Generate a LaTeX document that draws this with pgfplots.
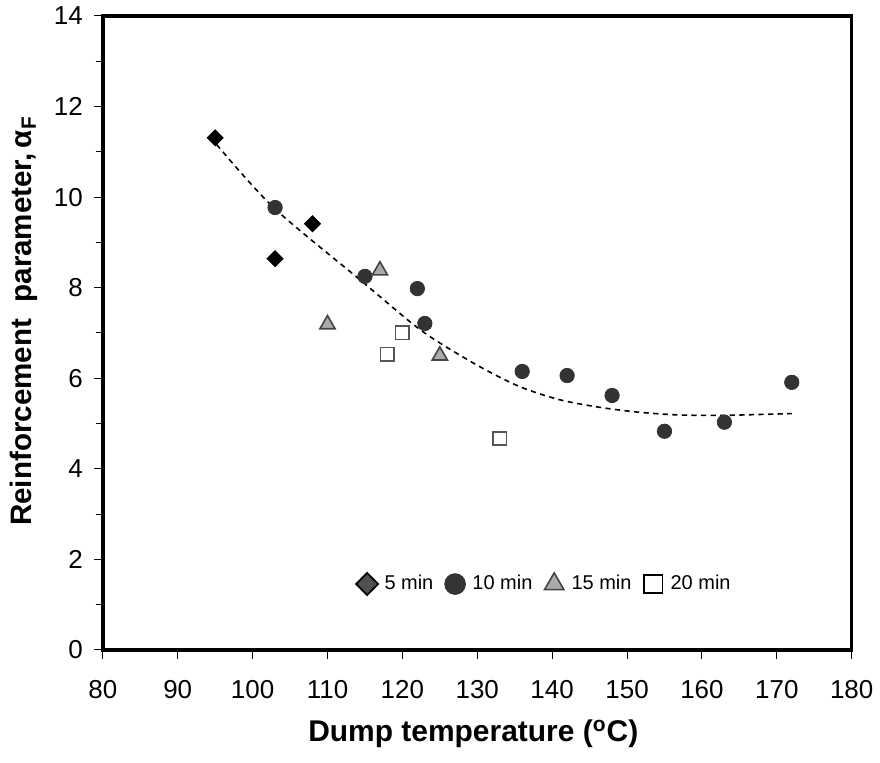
\documentclass[border=0pt]{standalone}
\usepackage{fontspec}
\setmainfont{Liberation Sans}
\usepackage{pgfplots}
\pgfplotsset{compat=1.18}
\definecolor{circ}{HTML}{333333}
\definecolor{tri}{HTML}{AAAAAA}
\definecolor{trid}{HTML}{444444}
\definecolor{sq}{HTML}{555555}
\definecolor{dia}{HTML}{505050}
\begin{document}
\begin{tikzpicture}
\begin{axis}[
  name=ax,
  scale only axis,
  width=375pt, height=317.5pt,
  xmin=80, xmax=180, ymin=0, ymax=14,
  xtick={80,90,...,180}, ytick={0,2,...,14},
  minor ytick={1,3,...,13},
  tick align=outside,
  xtick pos=bottom, ytick pos=left,
  major tick length=4.5pt, minor tick length=3.5pt,
  every tick/.style={black, line width=0.5pt},
  axis line style={line width=1.7pt},
  /pgf/number format/assume math mode=true,
  tick label style={font=\fontsize{13}{15}\selectfont},
  xticklabel style={yshift=-7pt},
  yticklabel style={xshift=-2pt},
  xlabel={\bfseries Dump temperature (\textsuperscript{o}C)},
  ylabel={\bfseries Reinforcement\ \ parameter,\,α\textsubscript{F}},
  every axis x label/.style={at={([shift={(-2pt,-46pt)}]axis description cs:0.5,0)}, anchor=base, font=\fontsize{15}{17}\selectfont},
  every axis y label/.style={at={([shift={(-39.5pt,6pt)}]axis description cs:0,0.5)}, rotate=90, anchor=center, font=\fontsize{14.8}{17}\selectfont},
  legend image code/.code={\path (0pt,0pt) (12.5pt,0pt); \draw[#1] plot coordinates {(6pt,0pt)};},
  legend style={draw=none, fill=none, at={(0.59,0.104)}, anchor=center,
    font=\fontsize{10}{12}\selectfont, legend columns=4,
    /tikz/every odd column/.append style={column sep=0pt},
    /tikz/every even column/.append style={column sep=2.7pt}},
  legend cell align=left,
]
\addplot[only marks, mark=square*, mark size=2.85pt, mark options={rotate=45, fill=black, draw=black, line width=0.4pt},
  legend image post style={mark size=3.9pt, mark options={rotate=45, fill=dia, draw=black, line width=0.9pt}}]
  coordinates {(95,11.31) (103,8.64) (108,9.41)};
\addlegendentry{5 min}
\addplot[only marks, mark=*, mark size=3.6pt, mark options={fill=circ, draw=circ},
  legend image post style={mark size=5.2pt}]
  coordinates {(103,9.77) (115,8.25) (122,7.98) (123,7.21) (136,6.15) (142,6.06) (148,5.62) (155,4.83) (163,5.03) (172,5.91)};
\addlegendentry{10 min}
\addplot[only marks, mark=triangle*, mark size=4.4pt, mark options={fill=tri, draw=trid, line width=0.8pt},
  legend image post style={mark size=5.6pt}]
  coordinates {(110,7.19) (117,8.38) (125,6.50)};
\addlegendentry{15 min}
\addplot[only marks, mark=square*, mark size=3.4pt, mark options={fill=white, draw=sq, line width=0.8pt},
  legend image post style={mark size=4.6pt, mark options={fill=white, draw=black, line width=0.9pt}}]
  coordinates {(118,6.53) (120,7.01) (133,4.67)};
\addlegendentry{20 min}
\addplot[black, line width=0.8pt, dash pattern=on 2.6pt off 2.2pt, smooth, forget plot]
  coordinates {(95.2,11.16) (102.8,9.77) (114.3,8.18) (121.3,7.21) (124.9,6.79) (130.3,6.26) (135.6,5.82) (140.9,5.53) (146.3,5.36) (151.6,5.25) (156.9,5.19) (162.3,5.18) (167.6,5.20) (172,5.22)};
\end{axis}
\path ([shift={(-51.5pt,-56.5pt)}]ax.south west) rectangle ([shift={(13.5pt,8pt)}]ax.north east);
\end{tikzpicture}
\end{document}
